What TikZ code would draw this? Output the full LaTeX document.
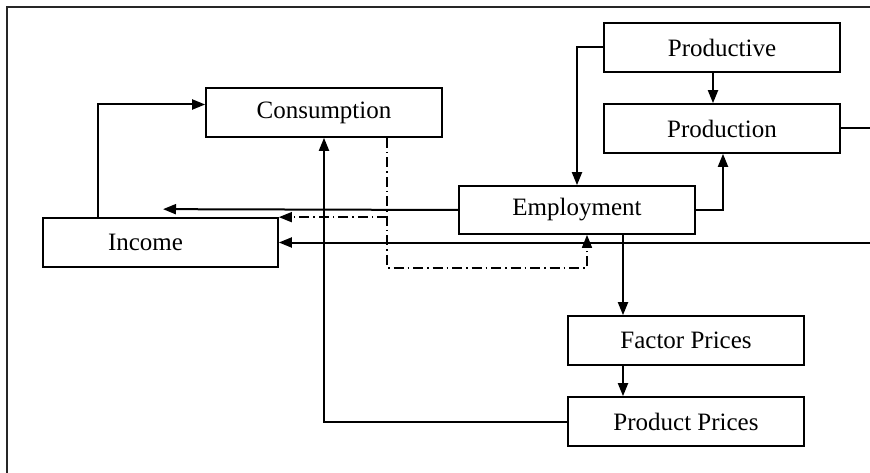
\documentclass[tikz,border=0pt]{standalone}
\usepackage{fontspec}
\setmainfont{Liberation Serif}
\usetikzlibrary{arrows.meta,calc}
\begin{document}
\begin{tikzpicture}[x=1pt,y=-1pt,
  tip/.tip={Triangle[length=13pt,width=10pt]},
  box/.style={draw=black,line width=1.7pt,rectangle,inner sep=0pt,
    minimum width=236pt,minimum height=49pt,
    font=\fontsize{25}{30}\selectfont},
  flow/.style={draw=black,line width=2pt,-tip},
  plain/.style={draw=black,line width=2pt},
  dashdotline/.style={draw=black,line width=1.6pt,
    dash pattern=on 10pt off 4pt on 1.5pt off 4pt}]
\useasboundingbox (0,0) rectangle (870,473);

% outer frame (left and top edges)
\draw[draw=black!85,line width=2.2pt] (7,480) -- (7,6.7) -- (880,6.7);

% blocks
\node[box] (cons)       at (324,112.5) {Consumption};
\node[box,minimum width=235pt] (income) at (160.5,242.5) {Income\hspace*{30pt}};
\node[box,minimum height=48pt] (emp) at (577,210) {Employment};
\node[box] (productive) at (722,47.5)  {Productive};
\node[box] (production) at (722,128.5) {Production};
\node[box] (factor)     at (686,340.5) {Factor Prices};
\node[box] (product)    at (686,421.5) {Product Prices};

% free ends leaving the picture on the right
\coordinate (prodout) at (880,128.5);
\coordinate (incback) at (880,242.5);

% solid connectors
\draw[flow] ([xshift=-62.5pt]income.north) |- ([yshift=8pt]cons.west);
\draw[flow] (emp.west) -- ([xshift=2.5pt,yshift=8pt]income.north);
\draw[flow] (incback) -- (income.east);
\draw[plain] (production.east) -- (prodout);
\draw[flow] (productive.west) -| (emp.north);
\draw[flow] (emp.east) -| ([xshift=1pt]production.south);
\draw[flow] ([xshift=-9pt]productive.south) -- ([xshift=-9pt]production.north);
\draw[flow] ([xshift=46pt]emp.south) -- ([xshift=-63pt]factor.north);
\draw[flow] ([xshift=-63pt]factor.south) -- ([xshift=-63pt]product.north);
\draw[flow] (product.west) -| (cons.south);

% dash-dotted connectors
\coordinate (dd) at ([xshift=63pt]cons.south);
\draw[dashdotline,-tip]
  (dd) |- ([xshift=10pt,yshift=-33pt]emp.south) -- ([xshift=10pt]emp.south);
\draw[dashdotline,-tip]
  (dd |- income.north east) -- (income.north east);
\end{tikzpicture}
\end{document}
